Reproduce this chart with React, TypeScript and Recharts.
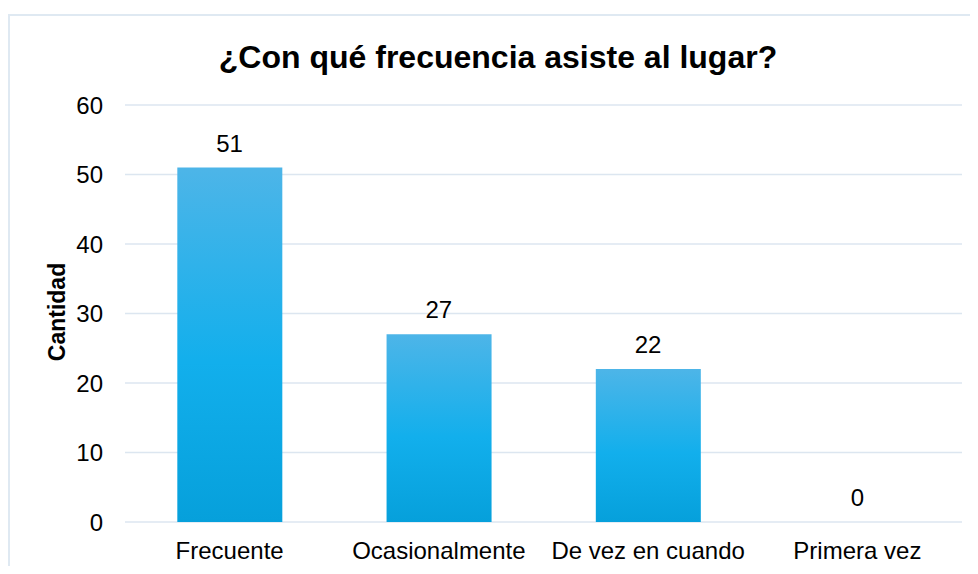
import { ComposedChart, Bar, Scatter, XAxis, YAxis, CartesianGrid } from "recharts";

const categories = ["Frecuente", "Ocasionalmente", "De vez en cuando", "Primera vez"];
const cantidad = [51, 27, 22, 0];
const yTicks = [0, 10, 20, 30, 40, 50, 60];

const data = categories.map((name, i) => ({ name, cantidad: cantidad[i] }));

const font = "'Liberation Sans', Arial, sans-serif";

// value labels drawn as a scatter "shape" so the zero bar still gets its "0"
const renderValue = (props: any) => {
    const { cx, cy, payload } = props;
    return (
        <text
            x={cx}
            y={cy - 16}
            textAnchor="middle"
            fill="#000"
            fontSize={24}
            fontFamily={font}
        >
            {String(payload.cantidad)}
        </text>
    );
};

export default function App() {
    return (
        <div
            style={{
                position: "relative",
                width: 970,
                height: 566,
                marginBottom: -8,
                overflow: "hidden",
                fontFamily: font,
                background: "#fff",
            }}
        >
            {/* chart frame, cut off at right and bottom like the original */}
            <div
                style={{
                    position: "absolute",
                    left: 0,
                    top: 6,
                    width: 970,
                    height: 560,
                    borderTop: "2px solid #DFE9F2",
                    borderLeft: "2px solid #DFE9F2",
                    boxSizing: "border-box",
                }}
            />
            <div
                style={{
                    position: "absolute",
                    left: 0,
                    width: 980,
                    top: 31,
                    textAlign: "center",
                    fontSize: 32,
                    lineHeight: "36px",
                    fontWeight: "bold",
                    color: "#000",
                }}
            >
                ¿Con qué frecuencia asiste al lugar?
            </div>
            <div
                style={{
                    position: "absolute",
                    left: 49,
                    top: 304,
                    transform: "translate(-50%, -50%) rotate(-90deg)",
                    fontSize: 23,
                    fontWeight: "bold",
                    whiteSpace: "nowrap",
                    color: "#000",
                }}
            >
                Cantidad
            </div>
            <ComposedChart
                width={970}
                height={566}
                data={data}
                margin={{ top: 97, right: 16, bottom: 22, left: 0 }}
                barCategoryGap="25%"
                style={{ position: "absolute", left: 0, top: 0 }}
            >
                <defs>
                    <linearGradient id="barFill" x1="0" y1="0" x2="0" y2="1">
                        <stop offset="0%" stopColor="#4DB5E8" />
                        <stop offset="55%" stopColor="#12AFEC" />
                        <stop offset="100%" stopColor="#06A0DB" />
                    </linearGradient>
                </defs>
                <CartesianGrid vertical={false} stroke="#DCE6F0" strokeWidth={1.5} />
                <XAxis
                    dataKey="name"
                    axisLine={false}
                    tickLine={false}
                    tickSize={0}
                    tickMargin={20}
                    height={30}
                    interval={0}
                    tick={{ fill: "#000", fontSize: 24, fontFamily: font }}
                />
                <YAxis
                    domain={[0, 60]}
                    ticks={yTicks}
                    width={117}
                    axisLine={false}
                    tickLine={false}
                    tickSize={0}
                    tickMargin={22}
                    tick={{ fill: "#000", fontSize: 24, fontFamily: font }}
                />
                <Bar dataKey="cantidad" fill="url(#barFill)" isAnimationActive={false} />
                <Scatter dataKey="cantidad" shape={renderValue} isAnimationActive={false} />
            </ComposedChart>
        </div>
    );
}
